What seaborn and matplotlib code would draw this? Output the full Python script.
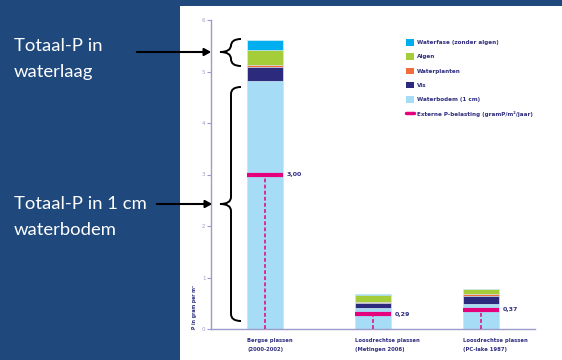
import pandas as pd
import seaborn as sns
import matplotlib.pyplot as plt
from matplotlib.patches import Patch, Rectangle, PathPatch, FancyArrowPatch
from matplotlib.lines import Line2D
from matplotlib.path import Path

sns.set_style("white")
plt.rcParams['font.family'] = 'DejaVu Sans'

# data
sites = ["Bergse plassen\n(2000-2002)",
         "Loosdrechtse plassen\n(Metingen 2006)",
         "Loosdrechtse plassen\n(PC-lake 1987)"]
waterbodem = [4.82, 0.40, 0.49]
vis = [0.27, 0.10, 0.15]
waterplanten = [0.04, 0.03, 0.03]
algen = [0.28, 0.13, 0.10]
waterfase = [0.21, 0.01, 0.01]
extern = [3.00, 0.29, 0.37]
extern_labels = ["3,00", "0,29", "0,37"]

layer_names = ["Waterbodem (1 cm)", "Vis", "Waterplanten", "Algen", "Waterfase (zonder algen)"]
layer_values = [waterbodem, vis, waterplanten, algen, waterfase]
layer_colors = ["#a6dcf5", "#2b2a7c", "#f26b3a", "#a5cd39", "#00aeef"]
pink = "#e5007e"
navy = "#2e2d7e"
lav = "#9c9ccc"
bg_blue = "#1f497d"

df = pd.DataFrame({"site": sites})
cum = [0.0] * len(sites)
cum_cols = []
for name, vals in zip(layer_names, layer_values):
    cum = [c + v for c, v in zip(cum, vals)]
    df[name] = cum
    cum_cols.append(name)

W, H = 562, 360
fig = plt.figure(figsize=(W / 100, H / 100), dpi=100, facecolor=bg_blue)
fig.patches.append(Rectangle((180 / W, 0), 1 - 180 / W, 1 - 6 / H, transform=fig.transFigure,
                             facecolor="white", edgecolor="none", zorder=-5))

ax = fig.add_axes([211 / W, 31 / H, 324 / W, 309 / H])
ax.set_facecolor("none")

bw = 0.333
# stacked bars: draw cumulative totals from top layer down
for name, color in zip(reversed(cum_cols), reversed(layer_colors)):
    sns.barplot(data=df, x="site", y=name, color=color, width=bw, saturation=1,
                edgecolor="#d6effa", linewidth=0.5, ax=ax)

# external P load marks
for i, v in enumerate(extern):
    ax.hlines(v, i - bw / 2, i + bw / 2, color=pink, lw=3, zorder=5)
    ax.vlines(i, 0, v, color=pink, lw=1.1, linestyles=(0, (2.5, 1.5)), zorder=5)
    ax.annotate(extern_labels[i], xy=(i + bw / 2, v), xytext=(2.5, 0), textcoords="offset points",
                ha="left", va="center", fontsize=4.5, fontweight="bold", color=navy)

ax.set_ylim(0, 6)
ax.set_xlim(-0.5, 2.5)
ax.set_xlabel("")
ax.set_ylabel("")
ax.set_yticks(range(0, 7))
ax.tick_params(axis="y", length=3, width=0.8, color=lav, labelsize=4, labelcolor=lav, pad=1, left=True)
ax.tick_params(axis="x", bottom=False, labelbottom=False)
for s in ["top", "right"]:
    ax.spines[s].set_visible(False)
for s in ["left", "bottom"]:
    ax.spines[s].set_color(lav)
    ax.spines[s].set_linewidth(1)

for i, lab in enumerate(sites):
    ax.annotate(lab, xy=(i - bw / 2, 0), xycoords=("data", "axes fraction"),
                xytext=(0, -6.5), textcoords="offset points", ha="left", va="top",
                fontsize=3.8, fontweight="bold", color=navy, linespacing=2.05)

ax.text(-0.05, 0.0, "P in gram per m²", transform=ax.transAxes, rotation=90,
        ha="center", va="bottom", fontsize=3.3, fontweight="bold", color=navy)

handles = [Patch(facecolor=c, edgecolor="none") for c in reversed(layer_colors)]
labels = list(reversed(layer_names))
handles.append(Line2D([0], [0], color=pink, lw=2.5))
labels.append("Externe P-belasting (gramP/m²/jaar)")
leg = ax.legend(handles, labels, loc="upper left", bbox_to_anchor=(0.585, 0.955), frameon=False,
                fontsize=4.1, handlelength=1.4, handleheight=1.4, handletextpad=0.6, labelspacing=1.35)
for t in leg.get_texts():
    t.set_color(navy)
    t.set_fontweight("bold")

# left-side annotations
def fx(x):
    return x / W

def fy(y):
    return 1 - y / H

fig.text(fx(14), fy(59), "Totaal-P in\nwaterlaag", color="white", fontsize=13.3, family="Lato",
         ha="left", va="center", linespacing=1.7)
fig.text(fx(14), fy(217), "Totaal-P in 1 cm\nwaterbodem", color="white", fontsize=13.3, family="Lato",
         ha="left", va="center", linespacing=1.7)

for x0, x1, y in [(134, 214, 52), (154, 215, 204)]:
    fig.patches.append(FancyArrowPatch(
        (fx(x0), fy(y)), (fx(x1), fy(y)), transform=fig.transFigure,
        arrowstyle="-|>,head_length=4,head_width=2.2", color="black", lw=1.5, zorder=10))


def brace(top, mid, bottom, xtip=220, xmid=231, xend=241):
    verts = [(xend, top), (xmid, top), (xmid, top + 7),
             (xmid, mid - 7),
             (xmid, mid), (xtip, mid),
             (xmid, mid), (xmid, mid + 7),
             (xmid, bottom - 7),
             (xmid, bottom), (xend, bottom)]
    codes = [Path.MOVETO, Path.CURVE3, Path.CURVE3, Path.LINETO,
             Path.CURVE3, Path.CURVE3, Path.CURVE3, Path.CURVE3,
             Path.LINETO, Path.CURVE3, Path.CURVE3]
    verts = [(fx(x), fy(y)) for x, y in verts]
    fig.patches.append(PathPatch(Path(verts, codes), transform=fig.transFigure,
                                 facecolor="none", edgecolor="black", lw=1.4, zorder=10))


brace(39, 52, 66)
brace(87, 204, 321)

fig.savefig("out.png", dpi=100, facecolor=fig.get_facecolor())
